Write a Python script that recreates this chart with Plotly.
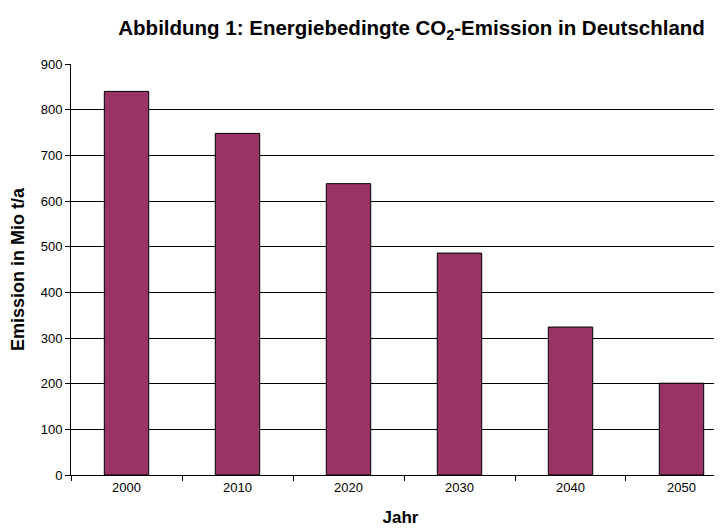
import plotly.graph_objects as go

jahre = ["2000", "2010", "2020", "2030", "2040", "2050"]
emission = [840, 748, 638, 486, 324, 201]
y_ticks = [0, 100, 200, 300, 400, 500, 600, 700, 800, 900]

fig = go.Figure()
fig.add_trace(go.Bar(
    x=jahre, y=emission,
    marker=dict(color="#993366", line=dict(color="#000000", width=1)),
    width=0.4,
))

fig.update_layout(
    width=722, height=532,
    margin=dict(l=63, r=0, t=56, b=65),
    paper_bgcolor="white", plot_bgcolor="white",
    font=dict(family="Liberation Sans, Arial, sans-serif", color="#000000", size=13),
    showlegend=False,
    bargap=0.6,
    title=dict(
        text="<b>Abbildung 1: Energiebedingte CO<sub>2</sub>-Emission in Deutschland</b>",
        x=0.559, xanchor="center", y=0.962, yanchor="middle",
        font=dict(size=20.5),
    ),
)
fig.update_xaxes(
    type="category",
    range=[-0.5, 5.437],
    showline=True, linecolor="black", linewidth=1,
    ticks="outside", tickson="boundaries", ticklen=5, tickcolor="black",
    showgrid=False,
    tickfont=dict(size=13),
    title=dict(text="<b>Jahr</b>", font=dict(size=17), standoff=17),
)
fig.update_yaxes(
    range=[0, 900],
    tickvals=y_ticks,
    showline=True, linecolor="black", linewidth=1,
    ticks="outside", ticklen=5, tickcolor="black",
    showgrid=True, gridcolor="black", gridwidth=1,
    zeroline=False,
    tickfont=dict(size=13),
    title=dict(text="<b>Emission in Mio t/a</b>", font=dict(size=18), standoff=12),
)

fig.write_html("out.html")
